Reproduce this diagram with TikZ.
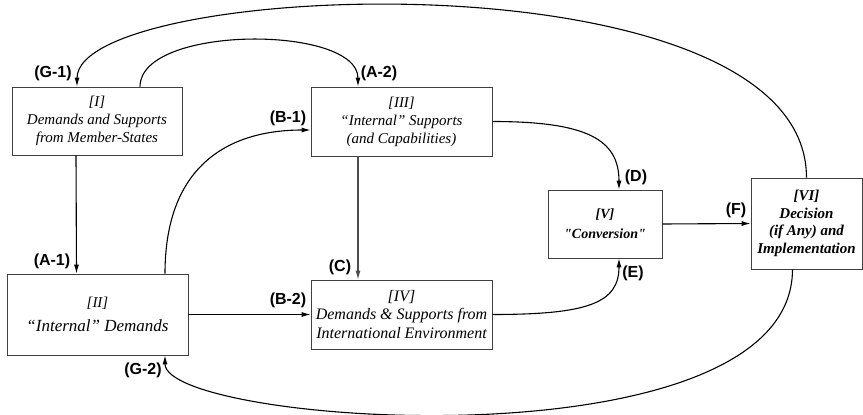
\documentclass[tikz,border=0pt]{standalone}
\usepackage{fontspec}
\setmainfont{Liberation Serif}
\newfontfamily\lblfont{Liberation Sans}
\usetikzlibrary{positioning,calc,arrows.meta}
\newcommand{\bnode}[4]{\node [box, #3] (#1) at (#2) {#4}}
\newcommand{\lnode}[3]{\node [lbl] (#1) at (#2) {#3}}

\begin{document}
\begin{tikzpicture}[x=1pt, y=-1pt, >={Latex[length=9pt,width=5pt]},
  box/.style={draw=black!75, line width=0.7pt, align=center, inner sep=0pt,
    font=\itshape\fontsize{15}{18}\selectfont},
  lbl/.style={font=\lblfont\bfseries\fontsize{16}{18}\selectfont, inner sep=0pt},
  flow/.style={->, line width=1.1pt}]

\useasboundingbox (0,0) rectangle (863,415);

\bnode{I}{97,121}{minimum width=170pt, minimum height=68pt}{[I]\\Demands and Supports\\from Member-States};
\bnode{III}{401.5,121.5}{minimum width=181pt, minimum height=69pt}{[III]\\``Internal'' Supports\\(and Capabilities)};
\bnode{II}{97.5,314.5}{minimum width=181pt, minimum height=81pt}{[II]\\[6pt]{\fontsize{17}{19}\selectfont ``Internal'' Demands}};
\bnode{IV}{401.5,314.5}{minimum width=181pt, minimum height=69pt, font=\itshape\fontsize{16}{18.5}\selectfont}{[IV]\\Demands \& Supports from\\International Environment};
\bnode{V}{605,224}{minimum width=114pt, minimum height=68pt, font=\bfseries\itshape\fontsize{14}{20}\selectfont}{[V]\\\textquotedbl Conversion\textquotedbl};
\bnode{VI}{806.5,223.5}{minimum width=111pt, minimum height=91pt, font=\bfseries\itshape\fontsize{15}{17.5}\selectfont}{[VI]\\Decision\\(if Any) and\\Implementation};

\lnode{G1}{53,73}{(G-1)};
\lnode{A2}{379,73}{(A-2)};
\lnode{B1}{288,118}{(B-1)};
\lnode{A1}{52,261}{(A-1)};
\lnode{G2}{143,370}{(G-2)};
\lnode{C}{340,267}{(C)};
\lnode{B2}{288,300}{(B-2)};
\lnode{D}{636,177}{(D)};
\lnode{E}{633,273}{(E)};
\lnode{F}{736,210}{(F)};

\draw[flow] (VI.north) .. controls +(0,-228) and +(0,-107) .. ([xshift=-20pt]I.north);
\draw[flow] ([xshift=43pt]I.north) .. controls +(0,-62) and +(0,-62) .. ([xshift=-43.5pt]III.north);
\draw[flow] ([xshift=-21pt]I.south) -- ([xshift=-21pt]II.north);
\draw[flow] ([xshift=67.5pt]II.north) .. controls +(0,-110) and +(-80,0) .. ([yshift=-8.5pt]III.west);
\draw[flow, draw=black!70] ([xshift=-43.5pt]III.south) -- ([xshift=-43.5pt]IV.north);
\draw[flow] (II.east) -- (IV.west);
\draw[flow] (III.east) .. controls +(95,0) and +(0,-50) .. ([xshift=14pt]V.north);
\draw[flow] (IV.east) .. controls +(95,0) and +(0,45) .. ([xshift=14pt]V.south);
\draw[flow] (V.east) -- (VI.west);
\draw[flow] ([xshift=-14pt]VI.south) .. controls +(0,200) and +(0,70) .. ([xshift=67.5pt]II.south);

\end{tikzpicture}
\end{document}
